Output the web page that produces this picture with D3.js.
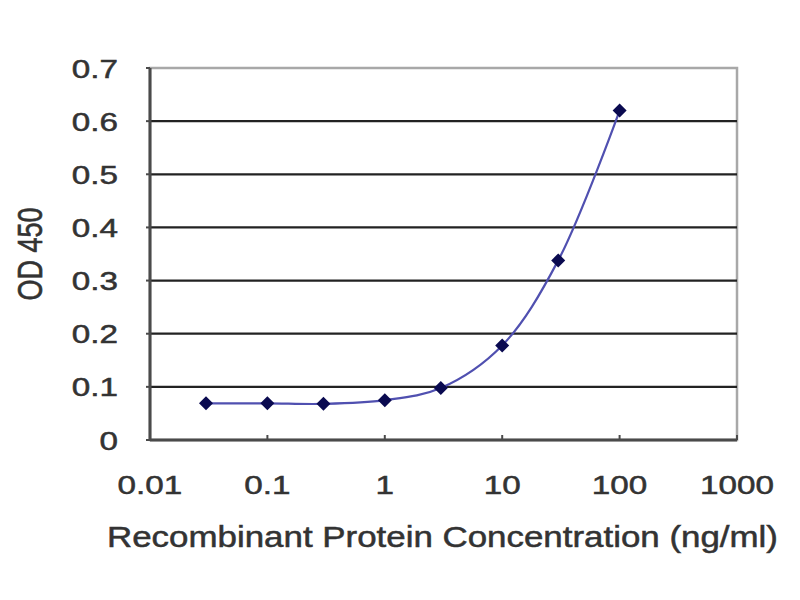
<!DOCTYPE html>
<html>
<head>
<meta charset="utf-8">
<script src="https://cdn.jsdelivr.net/npm/d3@7/dist/d3.min.js"></script>
<style>
  body { margin: 0; background: #fff; }
  text { font-family: "Liberation Sans", Arial, sans-serif; fill: #333; stroke: #333; stroke-width: 0.5px; }
</style>
</head>
<body>
<svg id="chart" width="800" height="600"></svg>
<script>
"use strict";

// concentrations (ng/ml) and measured OD 450
const concentrations = [0.03, 0.1, 0.3, 1, 3, 10, 30, 100]
const odValues = [0.069, 0.069, 0.068, 0.075, 0.098, 0.178, 0.338, 0.62]
const xTicks = [0.01, 0.1, 1, 10, 100, 1000]
const xTickLabels = ["0.01", "0.1", "1", "10", "100", "1000"]
const yTicks = [0, 0.1, 0.2, 0.3, 0.4, 0.5, 0.6, 0.7]
const yTickLabels = ["0", "0.1", "0.2", "0.3", "0.4", "0.5", "0.6", "0.7"]

const plotLeft = 150, plotRight = 737, plotTop = 68, plotBottom = 440
const stretch = 1.28   // the reference glyphs are wide

const svg = d3.select("#chart")

const x = d3.scaleLog().domain([0.01, 1000]).range([plotLeft, plotRight])
const y = d3.scaleLinear().domain([0, 0.7]).range([plotBottom, plotTop])

// frame: light on top and right
svg.append("rect")
  .attr("x", plotLeft).attr("y", plotTop)
  .attr("width", plotRight - plotLeft).attr("height", plotBottom - plotTop)
  .attr("fill", "none")
  .attr("stroke", "#a8a8a8")
  .attr("stroke-width", 2.5)

// gridlines
svg.append("g").selectAll("line").data(yTicks.filter(d => d > 0 && d < 0.7)).enter()
  .append("line")
  .attr("x1", plotLeft).attr("x2", plotRight)
  .attr("y1", d => y(d)).attr("y2", d => y(d))
  .attr("stroke", "#222")
  .attr("stroke-width", 2.2)

// axes lines
svg.append("line")
  .attr("x1", plotLeft).attr("x2", plotLeft).attr("y1", plotTop).attr("y2", plotBottom)
  .attr("stroke", "#4a4a4a").attr("stroke-width", 3)
svg.append("line")
  .attr("x1", plotLeft).attr("x2", plotRight).attr("y1", plotBottom).attr("y2", plotBottom)
  .attr("stroke", "#4a4a4a").attr("stroke-width", 3)

// x ticks (inside) and y ticks (outside)
svg.append("g").selectAll("line").data(xTicks).enter()
  .append("line")
  .attr("x1", d => x(d)).attr("x2", d => x(d))
  .attr("y1", plotBottom).attr("y2", plotBottom - 5)
  .attr("stroke", "#4a4a4a").attr("stroke-width", 2)
svg.append("g").selectAll("line").data(yTicks).enter()
  .append("line")
  .attr("x1", plotLeft - 4).attr("x2", plotLeft)
  .attr("y1", d => y(d)).attr("y2", d => y(d))
  .attr("stroke", "#4a4a4a").attr("stroke-width", 2)

// tick labels
svg.append("g").selectAll("text").data(yTicks).enter()
  .append("text")
  .attr("transform", d => "translate(118," + (y(d) + 9.5) + ") scale(" + stretch + ",1)")
  .attr("text-anchor", "end")
  .attr("font-size", 26)
  .text((d, i) => yTickLabels[i])

svg.append("g").selectAll("text").data(xTicks).enter()
  .append("text")
  .attr("transform", d => "translate(" + x(d) + ",494) scale(" + stretch + ",1)")
  .attr("text-anchor", "middle")
  .attr("font-size", 26)
  .text((d, i) => xTickLabels[i])

// axis titles
svg.append("text")
  .attr("x", (plotLeft + plotRight) / 2 - 1)
  .attr("y", 547)
  .attr("text-anchor", "middle")
  .attr("font-size", 29)
  .attr("textLength", 671)
  .attr("lengthAdjust", "spacingAndGlyphs")
  .text("Recombinant Protein Concentration (ng/ml)")

svg.append("text")
  .attr("transform", "translate(42,254) rotate(-90) scale(1," + stretch + ")")
  .attr("text-anchor", "middle")
  .attr("font-size", 27)
  .text("OD 450")

// curve
const pts = concentrations.map((c, i) => [c, odValues[i]])
svg.append("path")
  .datum(pts)
  .attr("fill", "none")
  .attr("stroke", "#5050b0")
  .attr("stroke-width", 2.2)
  .attr("d", d3.line().x(d => x(d[0])).y(d => y(d[1])).curve(d3.curveCatmullRom))

svg.append("g").selectAll("path").data(pts).enter()
  .append("path")
  .attr("transform", d => "translate(" + x(d[0]) + "," + y(d[1]) + ")")
  .attr("d", "M0,-7L7,0L0,7L-7,0Z")
  .attr("fill", "#0a0a50")
</script>
</body>
</html>
